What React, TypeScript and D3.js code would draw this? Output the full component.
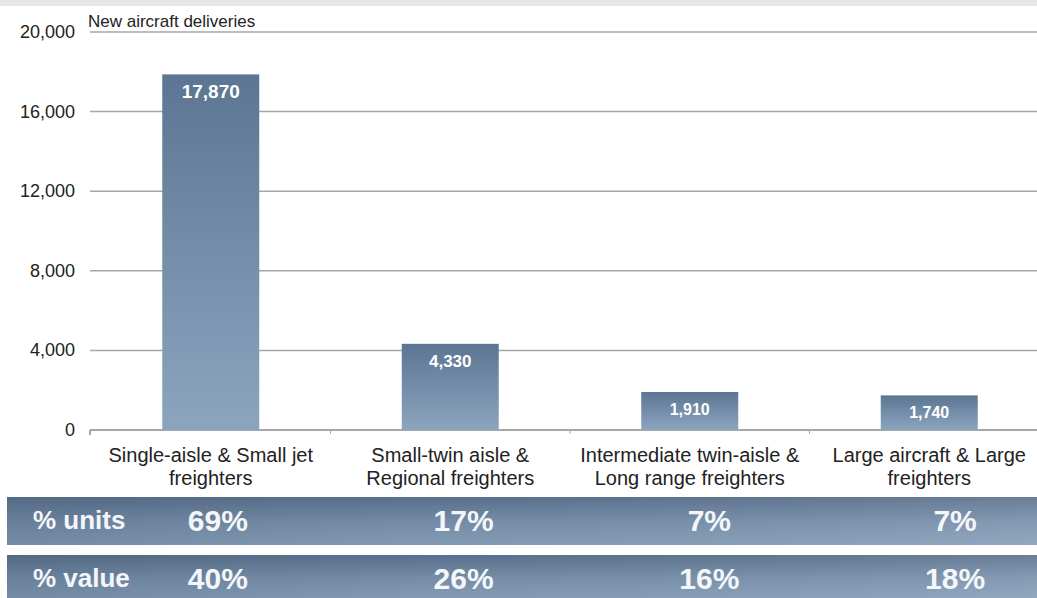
import React from "react";
import * as d3 from "d3";

const categories = [
  "Single-aisle & Small jet freighters",
  "Small-twin aisle & Regional freighters",
  "Intermediate twin-aisle & Long range freighters",
  "Large aircraft & Large freighters",
];
const categoryLines = [
  ["Single-aisle & Small jet", "freighters"],
  ["Small-twin aisle &", "Regional freighters"],
  ["Intermediate twin-aisle &", "Long range freighters"],
  ["Large aircraft & Large", "freighters"],
];
const deliveries = [17870, 4330, 1910, 1740];
const yTicks = [0, 4000, 8000, 12000, 16000, 20000];
const unitsPct = ["69%", "17%", "7%", "7%"];
const valuePct = ["40%", "26%", "16%", "18%"];
const rowLabels = ["% units", "% value"];
const title = "New aircraft deliveries";

const W = 1037;
const H = 598;
const FONT = "'Liberation Sans', Arial, sans-serif";

export default function App() {
  const y = d3.scaleLinear().domain([0, 20000]).range([430, 32]);
  const x = d3
    .scaleBand<string>()
    .domain(categories)
    .range([91, 1049])
    .paddingInner(0.595)
    .paddingOuter(0.2975);
  const xGroups = d3.scaleBand<string>().domain(categories).range([91, 1049]);
  const xPct = d3.scaleBand<string>().domain(categories).range([95, 1078]);
  const fmt = d3.format(",");
  const rows = [unitsPct, valuePct];
  const rowTop = [497, 555];
  const rowH = [48, 43];
  const labelSize = (v: number) => (v > 10000 ? 19 : v > 3000 ? 17 : 16);

  return (
    <svg
      width={W}
      height={H}
      style={{ position: "absolute", left: 0, top: 0, background: "#fff" }}
    >
      <defs>
        <linearGradient id="barGrad" x1="0" y1="0" x2="0" y2="1">
          <stop offset="0%" stopColor="#5c7592" />
          <stop offset="100%" stopColor="#8ca5bf" />
        </linearGradient>
        <linearGradient id="rowGrad" x1="0" y1="0" x2="0" y2="1">
          <stop offset="0%" stopColor="#5a708c" />
          <stop offset="55%" stopColor="#7890ab" />
          <stop offset="100%" stopColor="#869eb8" />
        </linearGradient>
        <linearGradient id="rowHGrad" x1="0" y1="0" x2="1" y2="0">
          <stop offset="0%" stopColor="#3f536b" stopOpacity={0.25} />
          <stop offset="40%" stopColor="#3f536b" stopOpacity={0.05} />
          <stop offset="100%" stopColor="#ffffff" stopOpacity={0.1} />
        </linearGradient>
      </defs>
      <rect x={0} y={0} width={W} height={6} fill="#e7e7e7" />

      {/* gridlines */}
      {yTicks.map((t) => (
        <line
          key={t}
          x1={90}
          x2={W}
          y1={y(t)}
          y2={y(t)}
          stroke={t === 0 ? "#8a8a8a" : "#a6a6a6"}
          strokeWidth={1.5}
        />
      ))}
      {/* y labels */}
      {yTicks.map((t) => (
        <text
          key={"l" + t}
          x={75}
          y={y(t) + 6}
          textAnchor="end"
          fontFamily={FONT}
          fontSize={18}
          fill="#222"
        >
          {fmt(t)}
        </text>
      ))}
      {/* x axis ticks */}
      <line x1={90} x2={90} y1={430} y2={435} stroke="#8a8a8a" strokeWidth={1.5} />
      {categories.slice(1).map((c) => (
        <line
          key={"t" + c}
          x1={xGroups(c)!}
          x2={xGroups(c)!}
          y1={430}
          y2={434}
          stroke="#aaa"
          strokeWidth={1}
        />
      ))}

      <text x={88} y={27} fontFamily={FONT} fontSize={17} fill="#222">
        {title}
      </text>

      {/* bars */}
      {categories.map((c, i) => (
        <g key={c}>
          <rect
            x={x(c)!}
            y={y(deliveries[i])}
            width={x.bandwidth()}
            height={y(0) - y(deliveries[i])}
            fill="url(#barGrad)"
          />
          <text
            x={x(c)! + x.bandwidth() / 2}
            y={y(deliveries[i]) + (deliveries[i] > 10000 ? 24 : 23)}
            textAnchor="middle"
            fontFamily={FONT}
            fontWeight="bold"
            fontSize={labelSize(deliveries[i])}
            fill="#fff"
          >
            {fmt(deliveries[i])}
          </text>
        </g>
      ))}

      {/* category labels */}
      {categories.map((c, i) => (
        <text
          key={"c" + c}
          x={xGroups(c)! + xGroups.bandwidth() / 2}
          y={462}
          textAnchor="middle"
          fontFamily={FONT}
          fontSize={20}
          fill="#222"
        >
          {categoryLines[i].map((ln, j) => (
            <tspan key={j} x={xGroups(c)! + xGroups.bandwidth() / 2} dy={j === 0 ? 0 : 23}>
              {ln}
            </tspan>
          ))}
        </text>
      ))}

      {/* percentage rows */}
      {rows.map((vals, r) => (
        <g key={"r" + r}>
          <rect x={7} y={rowTop[r]} width={W - 7} height={rowH[r]} fill="url(#rowGrad)" />
          <rect x={7} y={rowTop[r]} width={W - 7} height={rowH[r]} fill="url(#rowHGrad)" />
          <text
            x={33}
            y={rowTop[r] + 32}
            fontFamily={FONT}
            fontWeight="bold"
            fontSize={26}
            fill="#f4f6f9"
          >
            {rowLabels[r]}
          </text>
          {categories.map((c, i) => (
            <text
              key={c}
              x={xPct(c)! + xPct.bandwidth() / 2}
              y={rowTop[r] + 34}
              textAnchor="middle"
              fontFamily={FONT}
              fontWeight="bold"
              fontSize={30}
              fill="#f4f6f9"
            >
              {vals[i]}
            </text>
          ))}
        </g>
      ))}
    </svg>
  );
}
